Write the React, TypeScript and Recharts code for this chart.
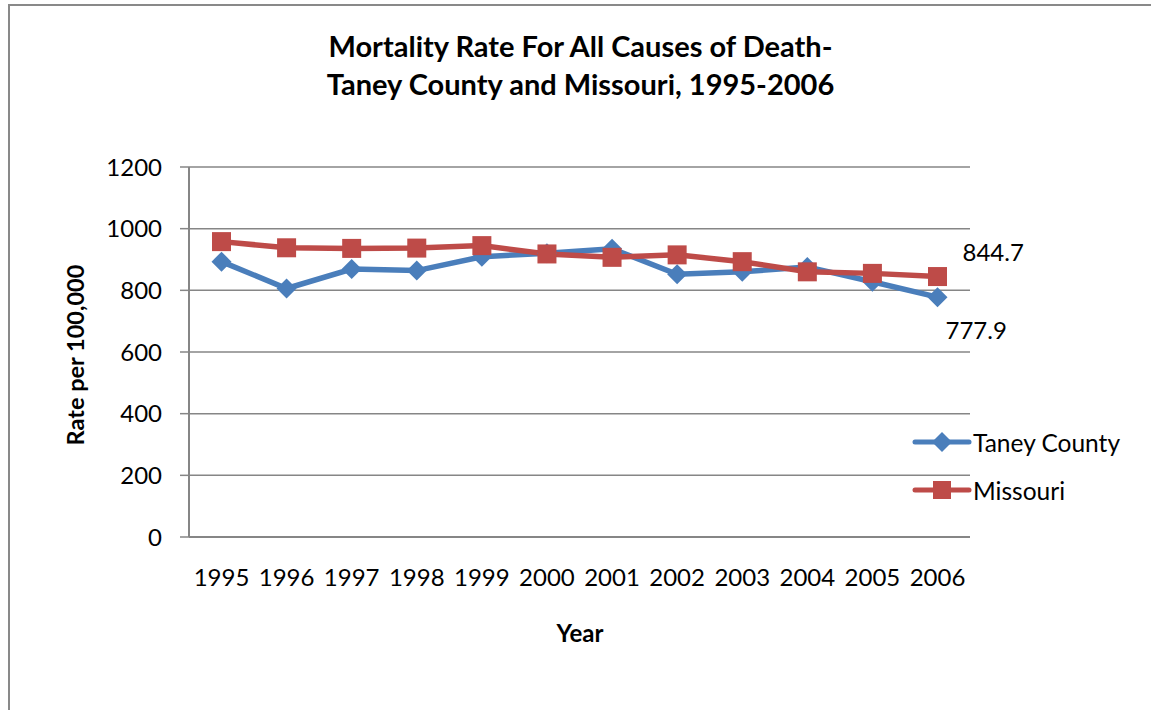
import { LineChart, Line, XAxis, YAxis, CartesianGrid, LabelList } from 'recharts'

const years = ['1995', '1996', '1997', '1998', '1999', '2000', '2001', '2002', '2003', '2004', '2005', '2006']
const taneyCounty = [893, 806, 869, 864, 909, 920, 935, 852, 860, 876, 828, 777.9]
const missouri = [958, 938, 936, 937, 945, 918, 907, 915, 893, 860, 855, 844.7]
const yTicks = [0, 200, 400, 600, 800, 1000, 1200]

const BLUE = '#4a7ebb'
const RED = '#be4b48'
const FONT = 'Lato, "Open Sans", sans-serif'

const data = years.map((year, i) => ({
  year,
  taney: taneyCounty[i],
  missouri: missouri[i],
}))

function DiamondDot(props: any) {
  const { cx, cy } = props
  if (cx == null || cy == null) return null
  const r = 10
  return (
    <path
      d={`M${cx},${cy - r} L${cx + r},${cy} L${cx},${cy + r} L${cx - r},${cy} Z`}
      fill={BLUE}
    />
  )
}

function SquareDot(props: any) {
  const { cx, cy } = props
  if (cx == null || cy == null) return null
  const s = 19
  return <rect x={cx - s / 2} y={cy - s / 2} width={s} height={s} fill={RED} />
}

function lastLabel(dx: number, dy: number) {
  return (props: any) => {
    const { x, y, value, index } = props
    if (index !== years.length - 1) return null
    return (
      <text x={x + dx} y={y + dy} fill="#000" fontSize={24} fontFamily={FONT} dominantBaseline="middle">
        {value}
      </text>
    )
  }
}

function ChartLegend() {
  const items = [
    { name: 'Taney County', color: BLUE, shape: 'diamond' },
    { name: 'Missouri', color: RED, shape: 'square' },
  ]
  return (
    <div style={{ position: 'absolute', left: 912, top: 418 }}>
      {items.map((it) => (
        <div key={it.name} style={{ display: 'flex', alignItems: 'center', height: 48 }}>
          <svg width={60} height={24}>
            <line x1={3} y1={12} x2={57} y2={12} stroke={it.color} strokeWidth={5} strokeLinecap="round" />
            {it.shape === 'diamond' ? (
              <path d="M30,2 L40,12 L30,22 L20,12 Z" fill={it.color} />
            ) : (
              <rect x={21} y={3} width={18} height={18} fill={it.color} />
            )}
          </svg>
          <span style={{ fontSize: 24.5, fontFamily: FONT, color: '#000', marginLeft: 1 }}>{it.name}</span>
        </div>
      ))}
    </div>
  )
}

export default function App() {
  return (
    <div style={{ position: 'absolute', left: 0, top: 0, width: 1151, height: 710, background: '#fff', overflow: 'hidden' }}>
      <div
        style={{
          position: 'absolute',
          left: 8,
          top: 4,
          width: 1160,
          height: 720,
          borderLeft: '2px solid #898989',
          borderTop: '2px solid #898989',
        }}
      />
      <div
        style={{
          position: 'absolute',
          left: 0,
          width: 1151,
          top: 27,
          textAlign: 'center',
          paddingLeft: 10,
          boxSizing: 'border-box',
          fontFamily: FONT,
          fontWeight: 'bold',
          fontSize: 29,
          lineHeight: '38px',
          color: '#000',
        }}
      >
        <div>Mortality Rate For All Causes of Death-</div>
        <div>Taney County and Missouri, 1995-2006</div>
      </div>
      <div
        style={{
          position: 'absolute',
          left: 75,
          top: 355,
          transform: 'translate(-50%, -50%) rotate(-90deg)',
          whiteSpace: 'nowrap',
          fontFamily: FONT,
          fontWeight: 'bold',
          fontSize: 23.5,
          color: '#000',
        }}
      >
        Rate per 100,000
      </div>
      <div
        style={{
          position: 'absolute',
          left: 580,
          top: 632,
          transform: 'translate(-50%, -50%)',
          fontFamily: FONT,
          fontWeight: 'bold',
          fontSize: 24,
          color: '#000',
        }}
      >
        Year
      </div>
      <div style={{ position: 'absolute', left: 0, top: 0 }}>
        <LineChart
          width={1151}
          height={710}
          data={data}
          margin={{ top: 167, right: 181, bottom: 143, left: 129 }}
        >
          <CartesianGrid vertical={false} stroke="#868686" strokeWidth={1.5} />
          <XAxis
            dataKey="year"
            padding={{ left: 32.5, right: 32.5 }}
            axisLine={{ stroke: '#868686', strokeWidth: 2 }}
            tickLine={false}
            tickSize={0}
            tickMargin={32}
            height={30}
            interval={0}
            tick={{ fill: '#000', fontSize: 24, fontFamily: FONT }}
          />
          <YAxis
            width={60}
            domain={[0, 1200]}
            ticks={yTicks}
            axisLine={{ stroke: '#868686', strokeWidth: 2 }}
            tickLine={{ stroke: '#868686', strokeWidth: 1.5 }}
            tickSize={9}
            tickMargin={18}
            tick={{ fill: '#000', fontSize: 24, fontFamily: FONT }}
          />
          <Line
            type="linear"
            dataKey="taney"
            name="Taney County"
            stroke={BLUE}
            strokeWidth={5.5}
            dot={<DiamondDot />}
            isAnimationActive={false}
          >
            <LabelList dataKey="taney" content={lastLabel(8, 36)} />
          </Line>
          <Line
            type="linear"
            dataKey="missouri"
            name="Missouri"
            stroke={RED}
            strokeWidth={5.5}
            dot={<SquareDot />}
            isAnimationActive={false}
          >
            <LabelList dataKey="missouri" content={lastLabel(25, -22)} />
          </Line>
        </LineChart>
      </div>
      <ChartLegend />
    </div>
  )
}
